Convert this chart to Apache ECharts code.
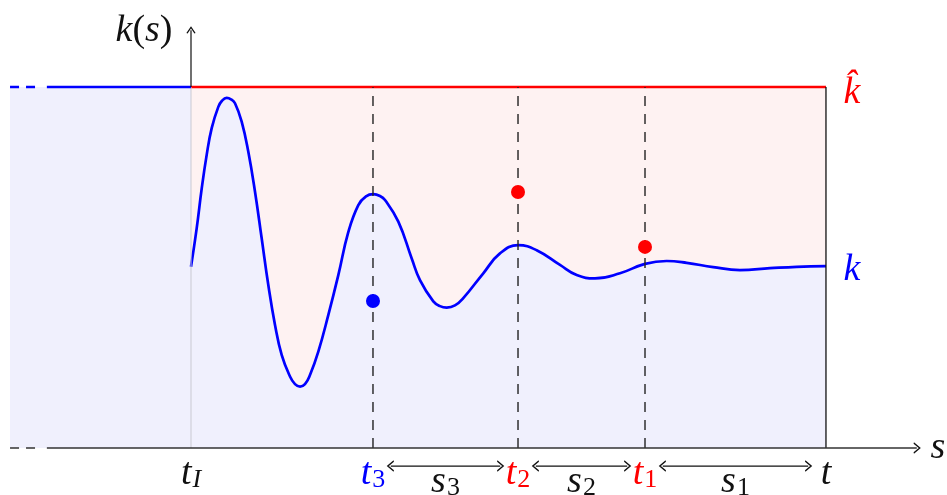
<!DOCTYPE html>
<html><head><meta charset="utf-8">
<script src="https://cdn.jsdelivr.net/npm/echarts@6/dist/echarts.min.js"></script>
<style>html,body{margin:0;padding:0;background:#fff}#c{width:947px;height:495px}</style>
</head><body><div id="c"></div>
<script>
// ---- data (units: s with t_I = 0 and t = 10 ; k with k-hat = 1) ----
const tI = 0, t3 = 2.866, t2 = 5.15, t1 = 7.15, tEnd = 10;
const kHat = 1.0;
const curveS = [0, 0.090, 0.169, 0.247, 0.326, 0.430, 0.488, 0.562, 0.630, 0.693, 0.798, 0.902, 1.008, 1.113, 1.217, 1.323, 1.428, 1.559, 1.638, 1.717, 1.795, 1.874, 2.005, 2.162, 2.320, 2.477, 2.635, 2.756, 2.871, 2.976, 3.055, 3.265, 3.476, 3.606, 3.816, 3.921, 4.027, 4.157, 4.288, 4.603, 4.866, 5.154, 5.444, 5.811, 6.074, 6.362, 6.756, 7.150, 7.491, 7.806, 8.225, 8.646, 9.118, 9.539, 10];
const curveK = [0.502, 0.609, 0.719, 0.812, 0.886, 0.945, 0.962, 0.970, 0.966, 0.955, 0.904, 0.821, 0.710, 0.581, 0.452, 0.341, 0.258, 0.198, 0.177, 0.170, 0.177, 0.202, 0.267, 0.368, 0.479, 0.598, 0.673, 0.697, 0.703, 0.698, 0.687, 0.627, 0.525, 0.465, 0.406, 0.393, 0.389, 0.395, 0.415, 0.484, 0.539, 0.562, 0.548, 0.507, 0.479, 0.470, 0.484, 0.510, 0.518, 0.513, 0.501, 0.493, 0.498, 0.502, 0.504];
const dotS = [t3, t2, t1];
const dotK = [0.407, 0.709, 0.557];
const markS = [t3, t2, t1];
const tickNames = ['t_I', 't_3', 't_2', 't_1', 't'];
const tickS = [tI, t3, t2, t1, tEnd];
const spanNames = ['s_3', 's_2', 's_1'];
const spanFrom = [t3, t2, t1];
const spanTo = [t2, t1, tEnd];
const kInf = curveK[curveK.length - 1];

// ---- view ----
const xMin = -3.008, xMax = 11.906, yMin = -0.1302, yMax = 1.241;
const xLeft = -2.85, xDashEnd = -2.41, xSolid = -2.27, xArrow = 11.43, yArrow = 1.157;
const gap = 0.28, ySpan = -0.05;
const BLUE = '#0000ff', RED = '#ff0000', INK = '#111111';
const FILL_B = '#f0f0fd', FILL_R = '#fef2f2';
const chevR = 'path://M0,0 L8,6 L0,12', chevL = 'path://M8,0 L0,6 L8,12', chevU = 'path://M0,8 L6,0 L12,8';
const FONT = 'Liberation Serif';

function endSym(path, size) {
  return { symbol: path, symbolSize: size, symbolKeepAspect: false,
    itemStyle: { color: 'none', borderColor: INK, borderWidth: 1.2, opacity: 1 } };
}
function seg(points, lineStyle, extra) {
  return Object.assign({ type: 'line', data: points, symbol: 'none', silent: true,
    lineStyle: lineStyle, animation: false }, extra || {});
}

const rich = {
  mi: { fontFamily: FONT, fontStyle: 'italic', fontSize: 38, lineHeight: 38, verticalAlign: 'top' },
  up: { fontFamily: FONT, fontSize: 38, lineHeight: 38, verticalAlign: 'top' },
  sub: { fontFamily: FONT, fontSize: 26, lineHeight: 26, padding: [17, 0, 0, 1], verticalAlign: 'bottom' },
  subi: { fontFamily: FONT, fontStyle: 'italic', fontSize: 26, lineHeight: 26, padding: [17, 0, 0, 1], verticalAlign: 'bottom' }
};
function fmt(name) {
  const p = name.split('_');
  if (p.length === 1) return '{mi|' + name + '}';
  const st = /[A-Za-z]/.test(p[1]) ? 'subi' : 'sub';
  return '{mi|' + p[0] + '}{' + st + '|' + p[1] + '}';
}
function lab(x, y, text, color, offset) {
  return { value: [x, y], label: { show: true, position: 'inside', formatter: text, color: color, offset: offset, rich: rich } };
}
const tickColors = [INK, BLUE, RED, RED, INK];
const labels = [];
tickS.forEach((s, i) => labels.push(lab(s, 0, fmt(tickNames[i]), tickColors[i], [0, 26])));
spanNames.forEach((n, i) => labels.push(lab((spanFrom[i] + spanTo[i]) / 2, 0, fmt(n), INK, [0, 34])));
labels.push(lab(tI, yArrow, '{mi|k}{up|(}{mi|s}{up|)}', INK, [-47, 1]));
labels.push(lab(xArrow, 0, '{mi|s}', INK, [21, 0]));
labels.push(lab(tEnd, kHat, '{mi|k\u0302}', RED, [26, 6]));
labels.push(lab(tEnd, kInf, '{mi|k}', BLUE, [26, 4]));

const series = [];
// pink region with red k-hat line
series.push(seg([[tI, kHat], [tEnd, kHat]], { color: RED, width: 2.6 }, { areaStyle: { color: FILL_R, opacity: 1 }, z: 1 }));
// left blue region
series.push(seg([[xLeft, kHat], [tI, kHat]], { width: 0, opacity: 0 }, { areaStyle: { color: FILL_B, opacity: 1 }, z: 1 }));
series.push(seg([[xSolid, kHat], [tI, kHat]], { color: BLUE, width: 2.6 }, { z: 3 }));
series.push(seg([[xLeft, kHat], [xDashEnd, kHat]], { color: BLUE, width: 2.6, type: [9, 7] }, { z: 3 }));
// k curve
series.push(seg(curveS.map((s, i) => [s, curveK[i]]), { color: BLUE, width: 2.7 }, { smooth: 0.45, areaStyle: { color: FILL_B, opacity: 1 }, z: 2 }));
// y axis (light below k-hat, dark above)
series.push(seg([[tI, 0], [tI, kHat]], { color: '#c9c9d2', width: 1 }, { z: 2 }));
series.push(seg([[tI, kHat], Object.assign({ value: [tI, yArrow] }, endSym(chevU, [8, 6]))], { color: INK, width: 1.2 }, { z: 4 }));
// dashed markers
markS.forEach(s => series.push(seg([[s, 0], [s, kHat]], { color: '#222222', width: 1.4, type: [10, 8] }, { z: 3 })));
// right edge at t
series.push(seg([[tEnd, 0], [tEnd, kHat]], { color: INK, width: 1.3 }, { z: 3 }));
// x axis
series.push(seg([[xLeft, 0], [xDashEnd, 0]], { color: '#333333', width: 1.4, type: [9, 7] }, { z: 4 }));
series.push(seg([[xSolid, 0], Object.assign({ value: [xArrow, 0] }, endSym(chevR, [6, 10]))], { color: '#333333', width: 1.4 }, { z: 4 }));
// span arrows
spanFrom.forEach((a, i) => series.push(seg([
  Object.assign({ value: [a + gap, ySpan] }, endSym(chevL, [6, 10])),
  Object.assign({ value: [spanTo[i] - gap, ySpan] }, endSym(chevR, [6, 10]))
], { color: INK, width: 1.2 }, { z: 4 })));
// dots
series.push({ type: 'scatter', silent: true, animation: false, z: 5, symbolSize: 14,
  data: dotS.map((s, i) => ({ value: [s, dotK[i]], itemStyle: { color: i === 0 ? BLUE : RED, opacity: 1 } })) });
// labels
series.push({ type: 'scatter', silent: true, animation: false, z: 6, symbolSize: 0,
  itemStyle: { color: 'rgba(0,0,0,0)', opacity: 1 }, data: labels });

const chart = echarts.init(document.getElementById('c'), null, { renderer: 'canvas' });
chart.setOption({
  animation: false,
  backgroundColor: '#ffffff',
  grid: { left: 0, right: 0, top: 0, bottom: 0 },
  xAxis: { type: 'value', min: xMin, max: xMax, show: false },
  yAxis: { type: 'value', min: yMin, max: yMax, show: false },
  series: series
});
</script></body></html>
